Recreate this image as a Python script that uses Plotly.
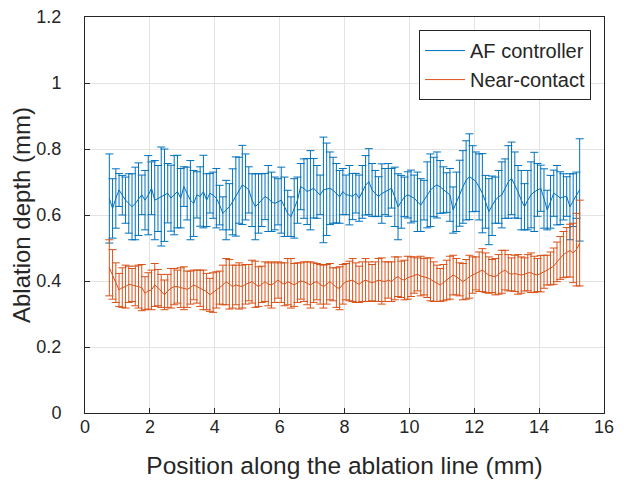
import plotly.graph_objects as go

position_mm = [
    0.75, 0.85, 0.95, 1.05, 1.15, 1.25, 1.35, 1.45, 1.55, 1.65,
    1.75, 1.85, 1.95, 2.05, 2.15, 2.25, 2.35, 2.45, 2.55, 2.65,
    2.75, 2.85, 2.95, 3.05, 3.15, 3.25, 3.35, 3.45, 3.55, 3.65,
    3.75, 3.85, 3.95, 4.05, 4.15, 4.25, 4.35, 4.45, 4.55, 4.65,
    4.75, 4.85, 4.95, 5.05, 5.15, 5.25, 5.35, 5.45, 5.55, 5.65,
    5.75, 5.85, 5.95, 6.05, 6.15, 6.25, 6.35, 6.45, 6.55, 6.65,
    6.75, 6.85, 6.95, 7.05, 7.15, 7.25, 7.35, 7.45, 7.55, 7.65,
    7.75, 7.85, 7.95, 8.05, 8.15, 8.25, 8.35, 8.45, 8.55, 8.65,
    8.75, 8.85, 8.95, 9.05, 9.15, 9.25, 9.35, 9.45, 9.55, 9.65,
    9.75, 9.85, 9.95, 10.05, 10.15, 10.25, 10.35, 10.45, 10.55, 10.65,
    10.75, 10.85, 10.95, 11.05, 11.15, 11.25, 11.35, 11.45, 11.55, 11.65,
    11.75, 11.85, 11.95, 12.05, 12.15, 12.25, 12.35, 12.45, 12.55, 12.65,
    12.75, 12.85, 12.95, 13.05, 13.15, 13.25, 13.35, 13.45, 13.55, 13.65,
    13.75, 13.85, 13.95, 14.05, 14.15, 14.25, 14.35, 14.45, 14.55, 14.65,
    14.75, 14.85, 14.95, 15.05, 15.15, 15.25,
]

af_mean = [
    0.650, 0.620, 0.650, 0.676, 0.660, 0.645, 0.635, 0.625, 0.635, 0.648,
    0.661, 0.645, 0.660, 0.681, 0.645, 0.650, 0.656, 0.660, 0.666, 0.651,
    0.660, 0.671, 0.651, 0.686, 0.665, 0.645, 0.635, 0.661, 0.656, 0.671,
    0.645, 0.666, 0.660, 0.651, 0.630, 0.605, 0.615, 0.625, 0.640, 0.656,
    0.675, 0.691, 0.685, 0.676, 0.645, 0.625, 0.635, 0.645, 0.656, 0.650,
    0.640, 0.635, 0.640, 0.645, 0.625, 0.605, 0.595, 0.620, 0.645, 0.686,
    0.680, 0.671, 0.675, 0.681, 0.670, 0.661, 0.676, 0.678, 0.681, 0.675,
    0.666, 0.655, 0.671, 0.661, 0.660, 0.656, 0.666, 0.651, 0.670, 0.690,
    0.701, 0.676, 0.665, 0.656, 0.665, 0.671, 0.676, 0.681, 0.655, 0.625,
    0.640, 0.655, 0.661, 0.656, 0.651, 0.640, 0.630, 0.645, 0.661, 0.675,
    0.685, 0.691, 0.685, 0.676, 0.668, 0.661, 0.615, 0.640, 0.666, 0.685,
    0.705, 0.716, 0.710, 0.701, 0.685, 0.666, 0.640, 0.610, 0.628, 0.645,
    0.655, 0.661, 0.680, 0.700, 0.711, 0.691, 0.670, 0.645, 0.625, 0.645,
    0.661, 0.670, 0.676, 0.681, 0.650, 0.615, 0.640, 0.666, 0.660, 0.651,
    0.655, 0.656, 0.625, 0.645, 0.660, 0.676,
]

af_err = [
    0.135, 0.09, 0.09, 0.05, 0.06, 0.07, 0.09, 0.10, 0.11, 0.11,
    0.06, 0.09, 0.12, 0.08, 0.12, 0.10, 0.15, 0.14, 0.09, 0.10,
    0.12, 0.11, 0.09, 0.06, 0.08, 0.12, 0.10, 0.07, 0.09, 0.11,
    0.08, 0.06, 0.07, 0.09, 0.06, 0.05, 0.09, 0.07, 0.10, 0.12,
    0.10, 0.12, 0.10, 0.07, 0.08, 0.10, 0.09, 0.08, 0.07, 0.10,
    0.09, 0.08, 0.07, 0.10, 0.09, 0.07, 0.06, 0.09, 0.07, 0.07,
    0.09, 0.10, 0.12, 0.09, 0.08, 0.06, 0.16, 0.14, 0.11, 0.10,
    0.09, 0.08, 0.07, 0.06, 0.09, 0.07, 0.06, 0.07, 0.08, 0.09,
    0.10, 0.08, 0.07, 0.06, 0.09, 0.07, 0.08, 0.06, 0.09, 0.10,
    0.08, 0.06, 0.07, 0.08, 0.07, 0.09, 0.08, 0.06, 0.10, 0.11,
    0.09, 0.10, 0.08, 0.07, 0.06, 0.08, 0.07, 0.09, 0.10, 0.11,
    0.12, 0.13, 0.10, 0.09, 0.10, 0.12, 0.08, 0.10, 0.09, 0.07,
    0.08, 0.10, 0.09, 0.11, 0.11, 0.10, 0.08, 0.09, 0.07, 0.09,
    0.10, 0.12, 0.08, 0.07, 0.09, 0.06, 0.08, 0.07, 0.09, 0.08,
    0.07, 0.06, 0.10, 0.08, 0.07, 0.155,
]

nc_mean = [
    0.440, 0.420, 0.395, 0.373, 0.380, 0.383, 0.390, 0.388, 0.385, 0.383,
    0.380, 0.363, 0.370, 0.373, 0.388, 0.380, 0.370, 0.358, 0.370, 0.378,
    0.383, 0.383, 0.380, 0.378, 0.375, 0.380, 0.388, 0.383, 0.378, 0.373,
    0.368, 0.358, 0.365, 0.373, 0.380, 0.388, 0.398, 0.390, 0.383, 0.388,
    0.385, 0.383, 0.390, 0.395, 0.398, 0.390, 0.383, 0.390, 0.398, 0.390,
    0.388, 0.395, 0.403, 0.395, 0.390, 0.398, 0.393, 0.388, 0.395, 0.400,
    0.398, 0.393, 0.388, 0.395, 0.398, 0.390, 0.383, 0.390, 0.398, 0.390,
    0.380, 0.378, 0.390, 0.398, 0.400, 0.403, 0.395, 0.390, 0.398, 0.403,
    0.398, 0.395, 0.398, 0.403, 0.400, 0.398, 0.403, 0.398, 0.408, 0.413,
    0.405, 0.403, 0.410, 0.413, 0.418, 0.420, 0.415, 0.413, 0.410, 0.405,
    0.398, 0.393, 0.388, 0.395, 0.403, 0.410, 0.418, 0.413, 0.405, 0.398,
    0.405, 0.413, 0.418, 0.423, 0.428, 0.433, 0.425, 0.418, 0.415, 0.413,
    0.420, 0.428, 0.433, 0.425, 0.420, 0.423, 0.420, 0.418, 0.420, 0.425,
    0.425, 0.420, 0.418, 0.422, 0.428, 0.433, 0.438, 0.445, 0.458, 0.470,
    0.480, 0.487, 0.492, 0.485, 0.495, 0.515,
]

nc_err = [
    0.085, 0.075, 0.06, 0.05, 0.06, 0.065, 0.055, 0.05, 0.06, 0.065,
    0.07, 0.05, 0.055, 0.06, 0.065, 0.055, 0.05, 0.045, 0.05, 0.06,
    0.055, 0.05, 0.06, 0.065, 0.055, 0.05, 0.045, 0.05, 0.055, 0.06,
    0.055, 0.05, 0.06, 0.055, 0.05, 0.06, 0.07, 0.075, 0.065, 0.06,
    0.07, 0.065, 0.06, 0.055, 0.065, 0.07, 0.06, 0.055, 0.06, 0.065,
    0.07, 0.06, 0.055, 0.06, 0.065, 0.07, 0.075, 0.065, 0.06, 0.055,
    0.06, 0.065, 0.07, 0.06, 0.055, 0.06, 0.065, 0.06, 0.055, 0.05,
    0.06, 0.065, 0.06, 0.055, 0.06, 0.065, 0.06, 0.055, 0.06, 0.065,
    0.06, 0.055, 0.06, 0.065, 0.07, 0.06, 0.055, 0.06, 0.065, 0.06,
    0.055, 0.06, 0.065, 0.06, 0.055, 0.05, 0.06, 0.055, 0.06, 0.065,
    0.06, 0.055, 0.05, 0.055, 0.06, 0.065, 0.06, 0.055, 0.05, 0.055,
    0.06, 0.065, 0.055, 0.05, 0.06, 0.065, 0.06, 0.055, 0.05, 0.055,
    0.06, 0.065, 0.06, 0.055, 0.05, 0.055, 0.06, 0.055, 0.05, 0.055,
    0.06, 0.055, 0.05, 0.055, 0.05, 0.045, 0.05, 0.055, 0.06, 0.065,
    0.07, 0.075, 0.08, 0.09, 0.11, 0.13,
]

x_ticks = [0, 2, 4, 6, 8, 10, 12, 14, 16]
y_ticks = [0, 0.2, 0.4, 0.6, 0.8, 1.0, 1.2]
y_tick_text = ["0", "0.2", "0.4", "0.6", "0.8", "1", "1.2"]

BLUE = "rgb(0,114,189)"
ORANGE = "rgb(217,83,25)"
TXT = "#262626"
FONT = "Liberation Sans, Arial, sans-serif"

fig = go.Figure()
fig.add_trace(go.Scatter(
    x=position_mm, y=af_mean, mode="lines", name="AF controller",
    line=dict(color=BLUE, width=1),
    error_y=dict(type="data", array=af_err, visible=True, color=BLUE,
                 thickness=1, width=4),
))
fig.add_trace(go.Scatter(
    x=position_mm, y=nc_mean, mode="lines", name="Near-contact",
    line=dict(color=ORANGE, width=1),
    error_y=dict(type="data", array=nc_err, visible=True, color=ORANGE,
                 thickness=1, width=4),
))

axis_common = dict(
    showline=True, linecolor=TXT, linewidth=1, mirror=True,
    ticks="inside", ticklen=5, tickcolor=TXT,
    showgrid=True, gridcolor="#e3e3e3", gridwidth=1,
    zeroline=False, automargin=False, ticklabeloverflow="allow",
    tickfont=dict(family=FONT, size=18, color=TXT),
)

# page body adds an 8px offset, so the figure is sized to fit the window
fig.update_layout(
    width=621, height=475,
    margin=dict(l=77, r=25, t=9, b=70),
    paper_bgcolor="white", plot_bgcolor="white",
    font=dict(family=FONT, color=TXT),
    xaxis=dict(range=[0, 16], tickvals=x_ticks, ticklabelstandoff=-3,
               title=dict(text="Position along the ablation line (mm)",
                          font=dict(family=FONT, size=24.5, color=TXT), standoff=21),
               **axis_common),
    yaxis=dict(range=[0, 1.2], tickvals=y_ticks, ticktext=y_tick_text,
               ticklabelstandoff=19,
               title=dict(text="Ablation depth (mm)",
                          font=dict(family=FONT, size=24, color=TXT), standoff=0),
               **axis_common),
    legend=dict(x=0.975, y=0.967, xanchor="right", yanchor="top",
                bgcolor="white", bordercolor=TXT, borderwidth=1,
                font=dict(family=FONT, size=20, color=TXT),
                tracegroupgap=0, itemwidth=40),
    showlegend=True,
)

fig.write_html("out.html")
